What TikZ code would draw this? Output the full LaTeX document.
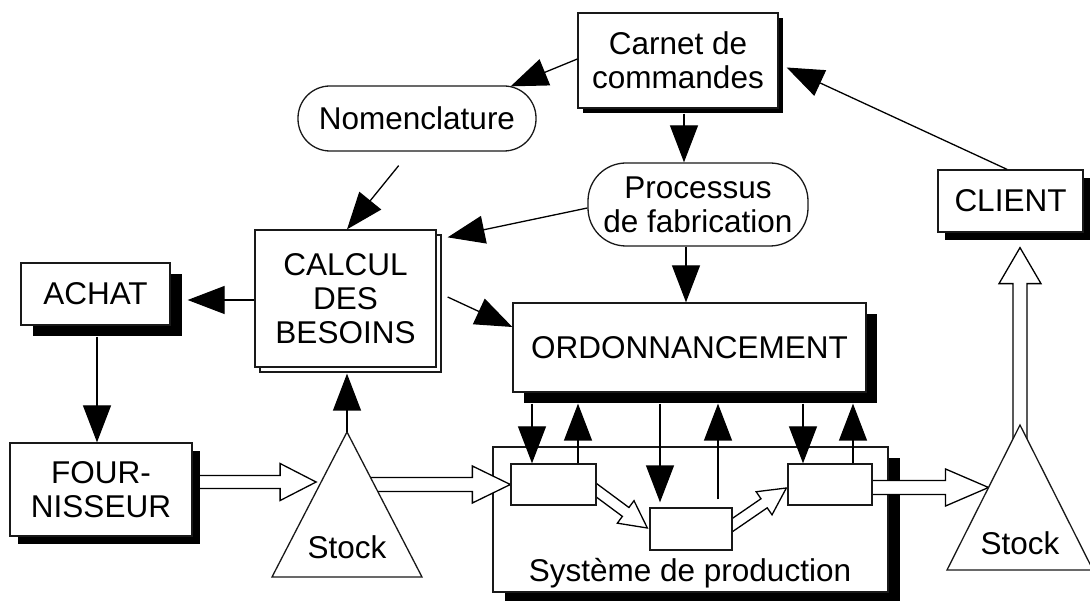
\documentclass[tikz,border=0pt]{standalone}
\usepackage{fontspec}
\setmainfont{Liberation Sans}
\usetikzlibrary{calc,arrows.meta,shadows}
\pgfdeclarelayer{bg}
\pgfdeclarelayer{mid}
\pgfsetlayers{bg,mid,main}

% hollow (outlined) arrow: [style] {start} {tip} {half shaft} {half head} {head length}
\newcommand\hollowarrow[6][]{%
  \coordinate (ha) at #2;
  \coordinate (hb) at #3;
  \coordinate (hc) at ($(hb)!#6!(ha)$);
  \filldraw[hollowarr,#1] ($(ha)!#4!90:(hb)$) -- ($(hc)!#4!90:(hb)$) -- ($(hc)!#5!90:(hb)$)
    -- (hb) -- ($(hc)!#5!-90:(hb)$) -- ($(hc)!#4!-90:(hb)$) -- ($(ha)!#4!-90:(hb)$);}

\begin{document}
\begin{tikzpicture}[x=1pt,y=-1pt,line join=miter,
  every node/.style={font=\fontsize{31.5}{34}\selectfont, inner sep=0pt, align=center},
  outline/.style={draw=black!90, line width=1.3pt, fill=white},
  boxed/.style={outline, rectangle},
  oval/.style={outline, rounded corners=#1},
  heavy/.style 2 args={drop shadow={shadow xshift=#1, shadow yshift=#2, fill=black, opacity=1}},
  stacked/.style={general shadow={shadow xshift=5pt, shadow yshift=-5pt, fill=white, draw=black!90, line width=1.3pt}},
  arr/.style={draw=black, line width=1.3pt, -{Triangle[length=37pt,width=28pt]}},
  hollowarr/.style={draw=black, line width=1.3pt, fill=white}]

\useasboundingbox (0,0) rectangle (1090,601);

\begin{pgfonlayer}{bg}
  \fill[white] (0,0) rectangle (1090,601);
  \node[boxed, heavy={12pt}{-11pt}, minimum width=395pt, minimum height=145pt] (prod) at (690.5,519.5) {};
\end{pgfonlayer}

% boxes
\node[boxed, heavy={5pt}{-5pt}, minimum width=200pt, minimum height=95pt] (carnet) at (678,60.5) {Carnet de\\commandes};
\node[oval=32pt, minimum width=238pt, minimum height=65pt] (nomen) at (417,118.5) {Nomenclature};
\node[oval=38pt, minimum width=220pt, minimum height=83pt] (proc) at (698,204.5) {Processus\\de fabrication};
\node[boxed, heavy={7pt}{-8pt}, minimum width=145pt, minimum height=62pt] (client) at (1010.5,201) {CLIENT};
\node[boxed, stacked, minimum width=181pt, minimum height=137pt] (calcul) at (345.5,298.5) {CALCUL\\DES\\BESOINS};
\node[boxed, heavy={12pt}{-11pt}, minimum width=149pt, minimum height=62pt] (achat) at (95.5,294) {ACHAT};
\node[boxed, heavy={11pt}{-11pt}, minimum width=353pt, minimum height=89pt] (ordo) at (689.5,347.5) {ORDONNANCEMENT};
\node[boxed, heavy={8pt}{-8pt}, minimum width=182pt, minimum height=93pt] (four) at (101,489.5) {FOUR-\\NISSEUR};
\node (prodlabel) at (690,573) {Système de production};

% workstations
\node[boxed, minimum width=85pt, minimum height=41pt] (b1) at (553.5,484.5) {};
\node[boxed, minimum width=82pt, minimum height=42pt] (b2) at (691,529) {};
\node[boxed, minimum width=84pt, minimum height=41pt] (b3) at (830,484.5) {};

% stocks
\coordinate (s1a) at (347,432);
\coordinate (s1l) at (272,577);
\coordinate (s1r) at (422,577);
\filldraw[outline] (s1a) -- (s1r) -- (s1l) -- cycle;
\node (s1t) at (347,547) {Stock};
\coordinate (s2a) at (1020,425);
\coordinate (s2l) at (947,570);
\coordinate (s2r) at (1093,570);
\filldraw[outline] (s2a) -- (s2r) -- (s2l) -- cycle;
\node (s2t) at (1020,543) {Stock};

% material flows
\coordinate (s1w) at ($(s1a)!0.345!(s1l)+(-5,0)$);
\coordinate (s1e) at ($(s1a)+(15,52.5)$);
\coordinate (s2w) at ($(s2a)!0.431!(s2l)$);
\begin{pgfonlayer}{mid}
  \hollowarrow{([yshift=7.5pt]four.east)}{(s1w)}{6.5pt}{18.5pt}{36pt}
  \hollowarrow{(s1e)}{(b1.west)}{7pt}{18.5pt}{38pt}
  \hollowarrow{([xshift=-6pt,yshift=-1.5pt]b1.east)}{([xshift=-2pt,yshift=1pt]b2.west)}{5.5pt}{14pt}{27pt}
  \hollowarrow{([xshift=-6pt]b2.east)}{([xshift=-1pt,yshift=-3.5pt]b3.west)}{5.5pt}{14pt}{27pt}
  \hollowarrow{([xshift=-8pt,yshift=-3pt]b3.east)}{(s2w)}{7pt}{18.5pt}{43pt}
  \hollowarrow{([yshift=-20pt]s2a)}{([xshift=9.5pt,yshift=-15pt]client.south)}{7pt}{21pt}{36pt}
\end{pgfonlayer}

% information flows
\draw[arr] ([yshift=1.5pt]carnet.west) -- ([xshift=-26pt,yshift=-1pt]nomen.north east);
\coordinate (cp) at ([xshift=6pt,yshift=-5pt]carnet.south);
\draw[arr] (cp) -- (cp |- proc.north);
\draw[arr, shorten <=18pt] ([xshift=-7pt]nomen.south) -- ([xshift=1.5pt]calcul.north);
\draw[arr] ([yshift=-3.5pt]proc.west) -- ([xshift=11pt,yshift=-8pt]calcul.north east);
\draw[arr] ([yshift=-1.5pt]calcul.west) -- ([xshift=17pt,yshift=-6pt]achat.east);
\draw[arr] ([xshift=11pt,yshift=1.5pt]calcul.east) -- ([yshift=20.5pt]ordo.west);
\coordinate (po) at ([xshift=-12pt]proc.south);
\draw[arr] (po) -- (po |- ordo.north);
\coordinate (af) at ([xshift=1.5pt,yshift=-11pt]achat.south);
\draw[arr] (af) -- (af |- four.north);
\draw[arr] (s1a) -- ([xshift=1.5pt,yshift=-6pt]calcul.south);
\draw[arr] ([xshift=-3.5pt]client.north) -- ([xshift=8pt,yshift=-7pt]carnet.east);

% scheduling orders and feedback
\coordinate (os) at ([yshift=-11pt]ordo.south);
\coordinate (d1) at ([xshift=-21.5pt]b1.north);
\coordinate (u1) at ([xshift=24.5pt]b1.north);
\coordinate (d2) at ([xshift=-31pt]b2.north);
\coordinate (u2) at ([xshift=27pt]b2.north);
\coordinate (d3) at ([xshift=-27pt]b3.north);
\coordinate (u3) at ([xshift=23pt]b3.north);
\draw[arr] (d1 |- os) -- (d1);
\draw[arr] (u1) -- (u1 |- os);
\draw[arr, shorten >=5pt] (d2 |- os) -- (d2);
\draw[arr, shorten <=8pt] (u2) -- (u2 |- os);
\draw[arr] (d3 |- os) -- (d3);
\draw[arr] (u3) -- (u3 |- os);
\end{tikzpicture}
\end{document}
